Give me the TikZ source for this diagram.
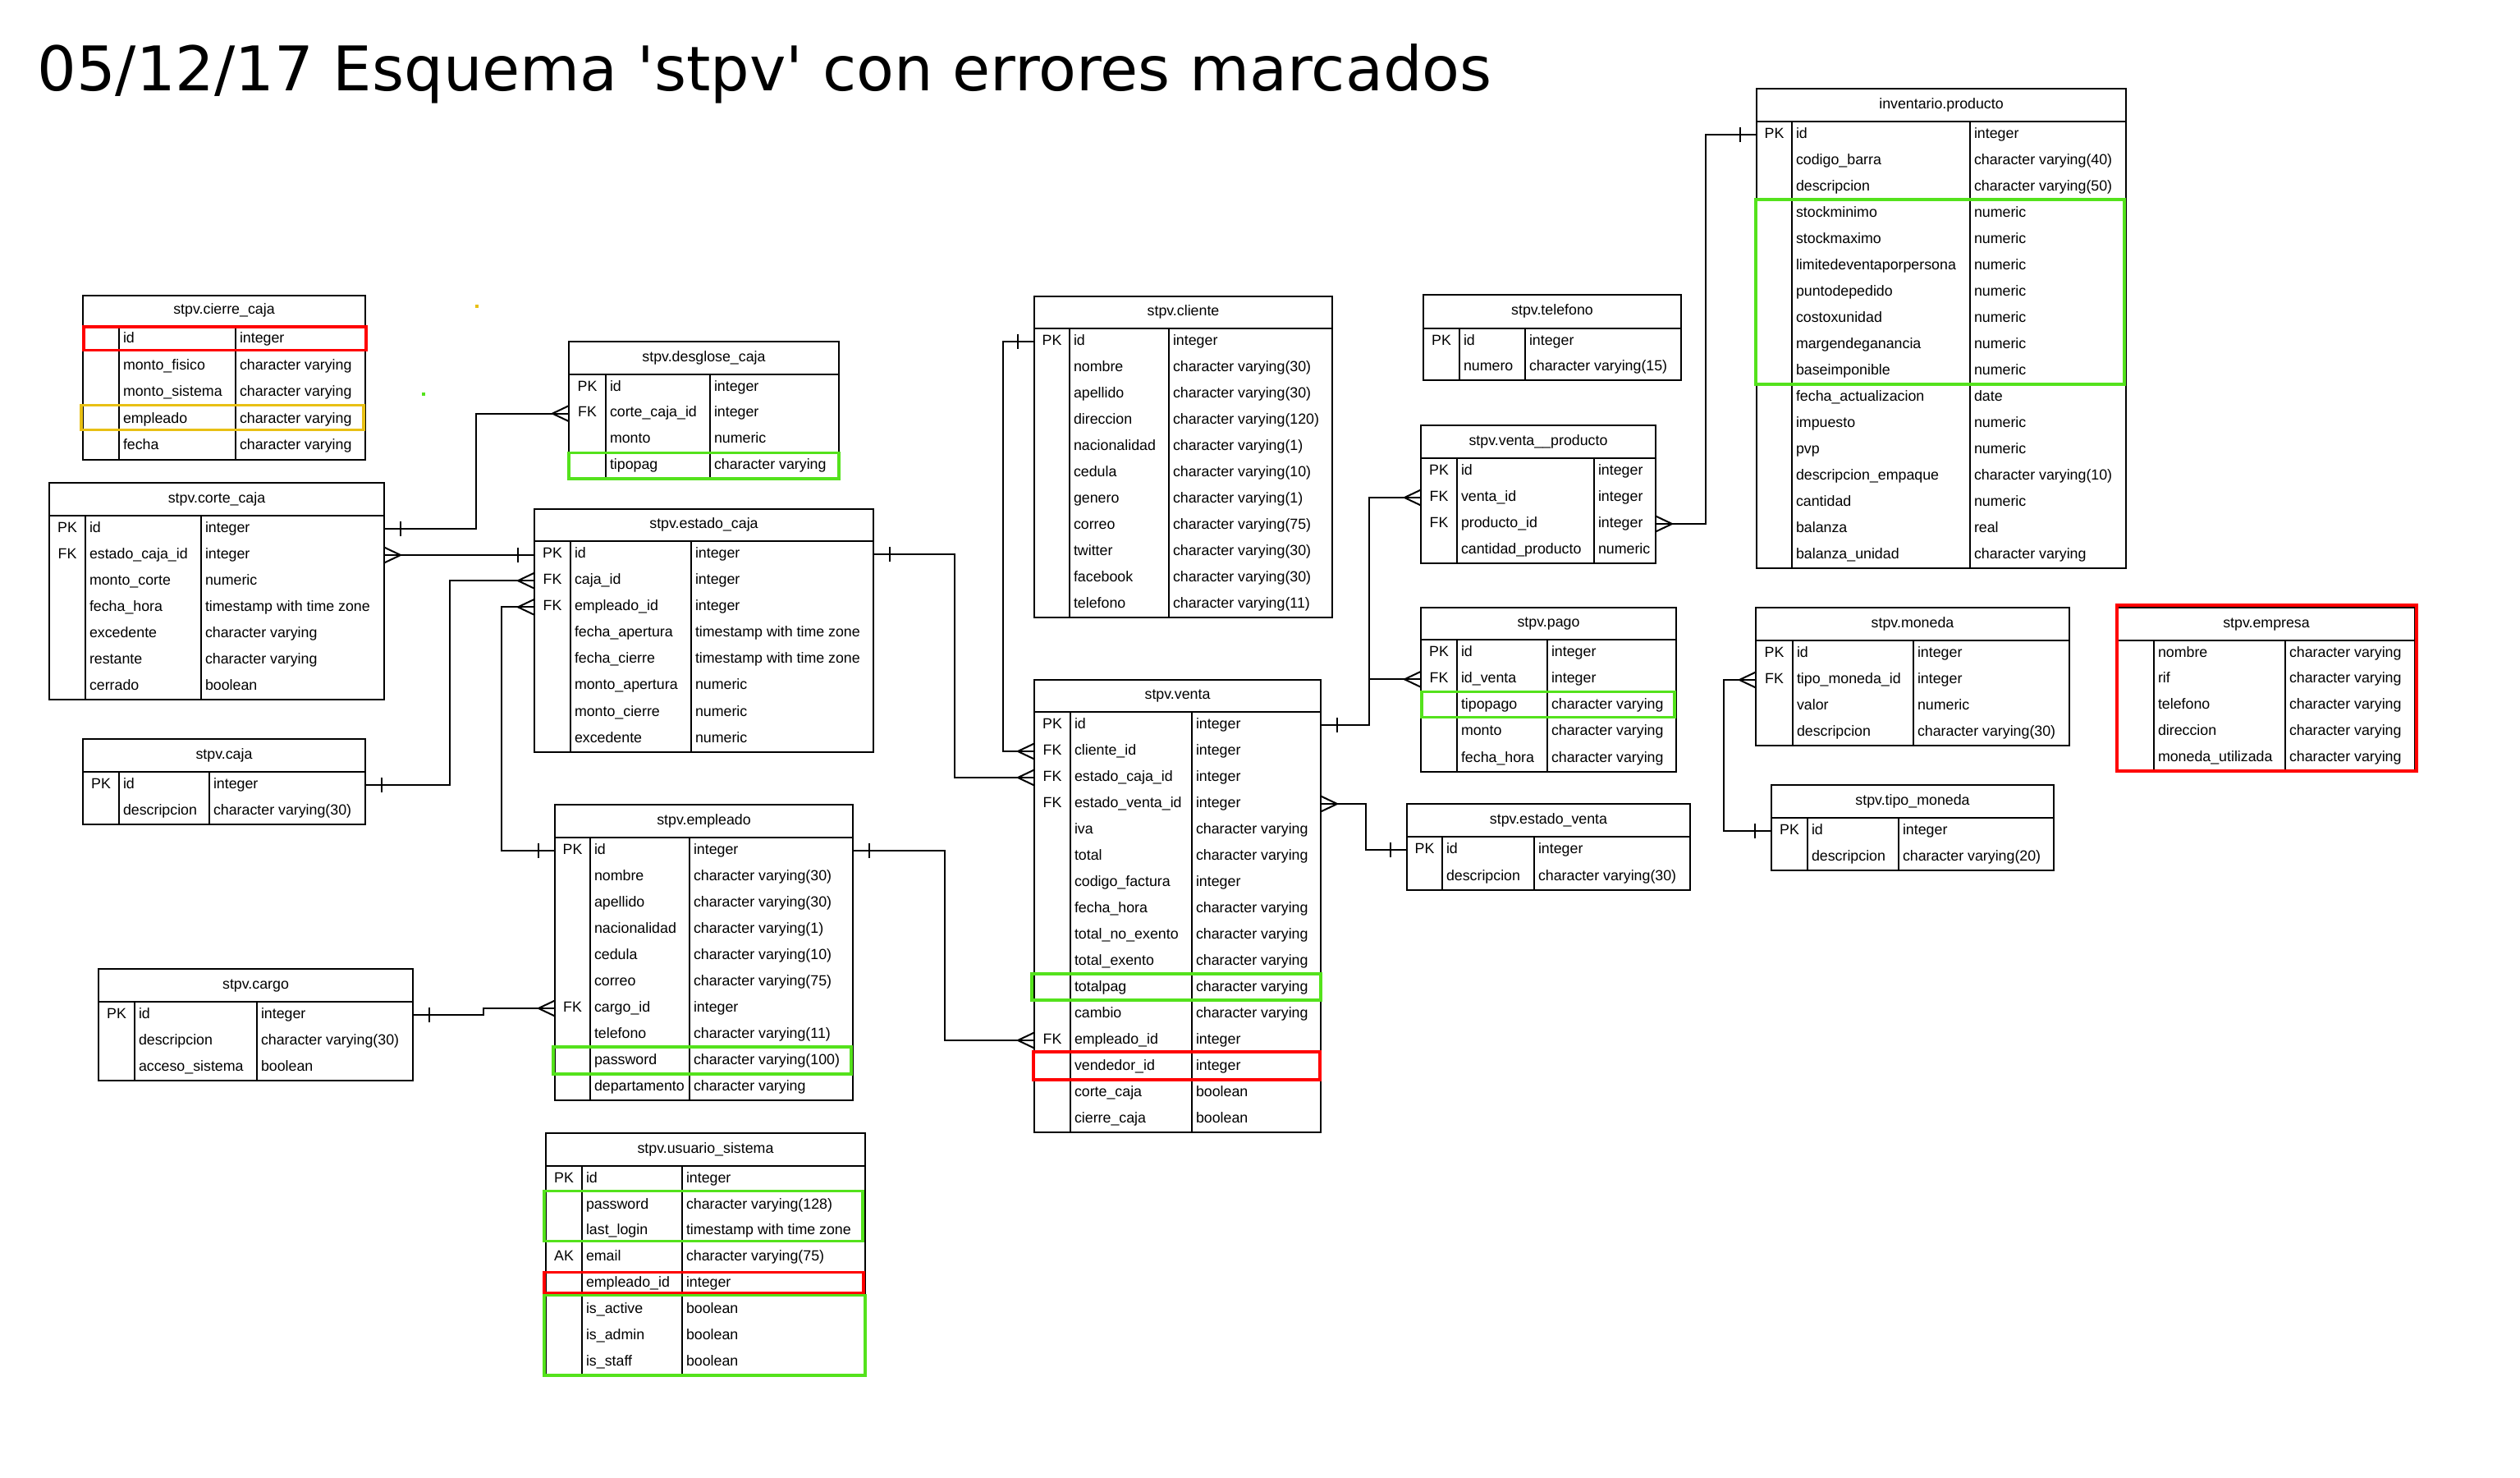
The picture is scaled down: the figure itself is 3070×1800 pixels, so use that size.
\documentclass[tikz,border=0pt]{standalone}
\usepackage{fontspec}
\setmainfont{Liberation Sans}
\newfontfamily\titlefont{DejaVu Sans}
\usetikzlibrary{calc,decorations.markings}

\definecolor{errred}{RGB}{255,0,0}
\definecolor{okgreen}{RGB}{84,226,28}
\definecolor{warnyellow}{RGB}{232,192,20}

\tikzset{
  tblframe/.style={draw=black, line width=1pt, inner sep=0pt, outer sep=0pt},
  tblline/.style={draw=black, line width=1pt},
  rowbox/.style={inner sep=0pt, outer sep=0pt},
  celltext/.style={inner sep=0pt, outer sep=0pt, font=\fontsize{8.9}{10.7}\selectfont},
  conn/.style={draw=black, line width=1pt},
  hlgreen/.style={draw=okgreen, line width=1.6pt},
  hlred/.style={draw=errred, line width=1.6pt},
  hlyellow/.style={draw=warnyellow, line width=1.6pt},
  one start/.style={postaction={decorate, decoration={markings,
      mark=at position 10pt with {\draw[conn] (0,-4.6pt) -- (0,4.6pt);}}}},
  one end/.style={postaction={decorate, decoration={markings,
      mark=at position -10pt with {\draw[conn] (0,-4.6pt) -- (0,4.6pt);}}}},
  many start/.style={postaction={decorate, decoration={markings,
      mark=at position 10pt with {\draw[conn] (-10pt,4.75pt) -- (0,0) -- (-10pt,-4.75pt);}}}},
  many end/.style={postaction={decorate, decoration={markings,
      mark=at position -10pt with {\draw[conn] (10pt,4.75pt) -- (0,0) -- (10pt,-4.75pt);}}}},
}

% \ertable{name}{x left,x key col,x type col,x right}{y top,y header,y bottom,rows}{title}{rows}
\newcommand\ertable[5]{\ertableaux{#1}#2;#3;{#4}{#5}}
\def\ertableaux#1#2,#3,#4,#5;#6,#7,#8,#9;{%
  \def\tabname{#1}\def\eXa{#2}\def\eXb{#3}\def\eXc{#4}\def\eXd{#5}%
  \def\eYa{#6}\def\eYb{#7}\def\eYc{#8}\def\eN{#9}%
  \ertabledraw}
\newcommand\ertabledraw[2]{%
  \pgfmathsetmacro\rowH{(\eYc-\eYb)/\eN}%
  \pgfmathsetmacro\rowHpt{\rowH*0.5}%
  \pgfmathsetmacro\tabW{(\eXd-\eXa)*0.5}%
  \pgfmathsetmacro\tabH{(\eYc-\eYa)*0.5}%
  \node[tblframe, minimum width=\tabW pt, minimum height=\tabH pt, anchor=north west]
    (\tabname) at (\eXa,\eYa) {};
  \node[celltext] (\tabname-head) at ({(\eXa+\eXd)/2},{(\eYa+\eYb)/2}) {\strut#1};
  \draw[tblline] (\eXa,\eYb) -- (\eXd,\eYb);
  \draw[tblline] (\eXb,\eYb) -- (\eXb,\eYc);
  \draw[tblline] (\eXc,\eYb) -- (\eXc,\eYc);
  \foreach \colk/\coln/\colt [count=\i] in {#2} {
    \pgfmathsetmacro\ym{\eYb+(\i-0.5)*\rowH}
    \node[rowbox, minimum width=\tabW pt, minimum height=\rowHpt pt]
      (\tabname-\i) at ({(\eXa+\eXd)/2},\ym) {};
    \node[celltext] (\tabname-\i-k) at ({(\eXa+\eXb)/2},\ym) {\strut\colk};
    \node[celltext, anchor=west] (\tabname-\i-n) at (\eXb+5,\ym) {\strut\coln};
    \node[celltext, anchor=west] (\tabname-\i-t) at (\eXc+5,\ym) {\strut\colt};
  }%
}

\begin{document}
\begin{tikzpicture}[x=0.5pt,y=-0.5pt]
\fill[white] (0,0) rectangle (3070,1800);
\useasboundingbox (0,0) rectangle (3070,1800);

% heading
\node[anchor=base west, inner sep=0pt, font=\titlefont\fontsize{37.5}{45}\selectfont]
  (title) at (45,110) {05/12/17 Esquema 'stpv' con errores marcados};

% ---------- tables ----------
\ertable{cierre}{101,145,287,445}{360,397,560,5}{stpv.cierre\_caja}
  {/id/integer, /monto\_fisico/character varying, /monto\_sistema/character varying,
   /empleado/character varying, /fecha/character varying}

\ertable{corte}{60,104,245,468}{588,628,852,7}{stpv.corte\_caja}
  {PK/id/integer, FK/estado\_caja\_id/integer, /monto\_corte/numeric,
   /fecha\_hora/timestamp with time zone, /excedente/character varying,
   /restante/character varying, /cerrado/boolean}

\ertable{caja}{101,145,255,445}{900,940,1004,2}{stpv.caja}
  {PK/id/integer, /descripcion/character varying(30)}

\ertable{desglose}{693,738,865,1022}{416,456,583,4}{stpv.desglose\_caja}
  {PK/id/integer, FK/corte\_caja\_id/integer, /monto/numeric, /tipopag/character varying}

\ertable{estado}{651,695,842,1064}{620,659,916,8}{stpv.estado\_caja}
  {PK/id/integer, FK/caja\_id/integer, FK/empleado\_id/integer,
   /fecha\_apertura/timestamp with time zone, /fecha\_cierre/timestamp with time zone,
   /monto\_apertura/numeric, /monto\_cierre/numeric, /excedente/numeric}

\ertable{empleado}{676,719,840,1039}{980,1020,1340,10}{stpv.empleado}
  {PK/id/integer, /nombre/character varying(30), /apellido/character varying(30),
   /nacionalidad/character varying(1), /cedula/character varying(10),
   /correo/character varying(75), FK/cargo\_id/integer, /telefono/character varying(11),
   /password/character varying(100), /departamento/character varying}

\ertable{cargo}{120,164,313,503}{1180,1220,1316,3}{stpv.cargo}
  {PK/id/integer, /descripcion/character varying(30), /acceso\_sistema/boolean}

\ertable{usuario}{665,709,831,1054}{1380,1420,1675,8}{stpv.usuario\_sistema}
  {PK/id/integer, /password/character varying(128), /last\_login/timestamp with time zone,
   AK/email/character varying(75), /empleado\_id/integer, /is\_active/boolean,
   /is\_admin/boolean, /is\_staff/boolean}

\ertable{cliente}{1260,1303,1424,1623}{361,400,752,11}{stpv.cliente}
  {PK/id/integer, /nombre/character varying(30), /apellido/character varying(30),
   /direccion/character varying(120), /nacionalidad/character varying(1),
   /cedula/character varying(10), /genero/character varying(1),
   /correo/character varying(75), /twitter/character varying(30),
   /facebook/character varying(30), /telefono/character varying(11)}

\ertable{venta}{1260,1304,1452,1609}{828,867,1379,16}{stpv.venta}
  {PK/id/integer, FK/cliente\_id/integer, FK/estado\_caja\_id/integer,
   FK/estado\_venta\_id/integer, /iva/character varying, /total/character varying,
   /codigo\_factura/integer, /fecha\_hora/character varying,
   /total\_no\_exento/character varying, /total\_exento/character varying,
   /totalpag/character varying, /cambio/character varying, FK/empleado\_id/integer,
   /vendedor\_id/integer, /corte\_caja/boolean, /cierre\_caja/boolean}

\ertable{telefono}{1734,1778,1858,2048}{359,400,463,2}{stpv.telefono}
  {PK/id/integer, /numero/character varying(15)}

\ertable{vprod}{1731,1775,1942,2017}{518,558,686,4}{stpv.venta\_\_producto}
  {PK/id/integer, FK/venta\_id/integer, FK/producto\_id/integer,
   /cantidad\_producto/numeric}

\ertable{pago}{1731,1775,1885,2042}{740,779,940,5}{stpv.pago}
  {PK/id/integer, FK/id\_venta/integer, /tipopago/character varying,
   /monto/character varying, /fecha\_hora/character varying}

\ertable{eventa}{1714,1757,1869,2059}{979,1019,1084,2}{stpv.estado\_venta}
  {PK/id/integer, /descripcion/character varying(30)}

\ertable{producto}{2140,2183,2400,2590}{108,148,692,17}{inventario.producto}
  {PK/id/integer, /codigo\_barra/character varying(40), /descripcion/character varying(50),
   /stockminimo/numeric, /stockmaximo/numeric, /limitedeventaporpersona/numeric,
   /puntodepedido/numeric, /costoxunidad/numeric, /margendeganancia/numeric,
   /baseimponible/numeric, /fecha\_actualizacion/date, /impuesto/numeric, /pvp/numeric,
   /descripcion\_empaque/character varying(10), /cantidad/numeric, /balanza/real,
   /balanza\_unidad/character varying}

\ertable{moneda}{2139,2184,2331,2521}{740,780,908,4}{stpv.moneda}
  {PK/id/integer, FK/tipo\_moneda\_id/integer, /valor/numeric,
   /descripcion/character varying(30)}

\ertable{tmoneda}{2158,2202,2313,2502}{956,996,1060,2}{stpv.tipo\_moneda}
  {PK/id/integer, /descripcion/character varying(20)}

\ertable{empresa}{2580,2624,2784,2942}{740,780,939,5}{stpv.empresa}
  {/nombre/character varying, /rif/character varying, /telefono/character varying,
   /direccion/character varying, /moneda\_utilizada/character varying}

% ---------- relationships ----------
\draw[conn, one start, many end] (corte-1.east) -| ($(desglose-2.west)+(-113,0)$) -- (desglose-2.west);
\draw[conn, many start, one end] (corte-2.east) -- (corte-2.east -| estado-1.west);
\draw[conn, one start, many end] (caja-1.east) -| ($(estado-2.west)+(-103,0)$) -- (estado-2.west);
\draw[conn, one start, many end] (empleado-1.west) -| ($(estado-3.west)+(-40,0)$) -- (estado-3.west);
\draw[conn, one start, many end] (estado-1.east) -| ($(venta-3.west)+(-97,0)$) -- (venta-3.west);
\draw[conn, one start, many end] (empleado-1.east) -| ($(venta-13.west)+(-109,0)$) -- (venta-13.west);
\draw[conn, one start, many end] (cargo-1.east) -| ($(empleado-7.west)+(-87,0)$) -- (empleado-7.west);
\draw[conn, one start, many end] (cliente-1.west) -| ($(venta-2.west)+(-38,0)$) -- (venta-2.west);
\draw[conn, one start, many end] (venta-1.east) -| ($(vprod-2.west)+(-63,0)$) -- (vprod-2.west);
\draw[conn, one start, many end] (venta-1.east) -| ($(pago-2.west)+(-63,0)$) -- (pago-2.west);
\draw[conn, many start, one end] (venta-4.east) -| ($(eventa-1.west)+(-50,0)$) -- (eventa-1.west);
\draw[conn, many start, one end] (vprod-3.east) -| ($(producto-1.west)+(-62,0)$) -- (producto-1.west);
\draw[conn, many start, one end] (moneda-2.west) -| ($(tmoneda-1.west)+(-58,0)$) -- (tmoneda-1.west);

% ---------- marked rows ----------
\draw[hlred] ($(cierre-1.north west)+(1,1)$) rectangle ($(cierre-1.south east)+(1,-3)$);
\draw[hlyellow] ($(cierre-4.north west)+(-2,-1)$) rectangle ($(cierre-4.south east)+(-2,-4)$);
\draw[hlgreen] (desglose-4.north west) rectangle (desglose-4.south east);
\draw[hlgreen] ($(empleado-9.north west)+(-2,-1)$) rectangle ($(empleado-9.south east)+(-2,0)$);
\draw[hlgreen] ($(usuario-2.north west)+(-2,-1)$) rectangle ($(usuario-3.south east)+(-3,-4)$);
\draw[hlred] ($(usuario-5.north west)+(-2,2)$) rectangle ($(usuario-5.south east)+(-2,-5)$);
\draw[hlgreen] ($(usuario-6.north west)+(-2,-2)$) rectangle (usuario-8.south east);
\draw[hlgreen] ($(venta-11.north west)+(-3,-1)$) rectangle ($(venta-11.south east)+(0,-1)$);
\draw[hlred] ($(venta-14.north west)+(-1,-2)$) rectangle ($(venta-14.south east)+(-1,0)$);
\draw[hlgreen] ($(pago-3.north west)+(1,-1)$) rectangle ($(pago-3.south east)+(-2,-2)$);
\draw[hlgreen] ($(producto-4.north west)+(-1,-1)$) rectangle ($(producto-10.south east)+(-2,0)$);
\draw[hlred] ($(empresa.north west)+(-1,-3)$) rectangle ($(empresa.south east)+(2,0)$);

% stray specks
\fill[warnyellow] (579,371) rectangle (583,375);
\fill[okgreen] (514,478) rectangle (518,482);
\end{tikzpicture}
\end{document}
